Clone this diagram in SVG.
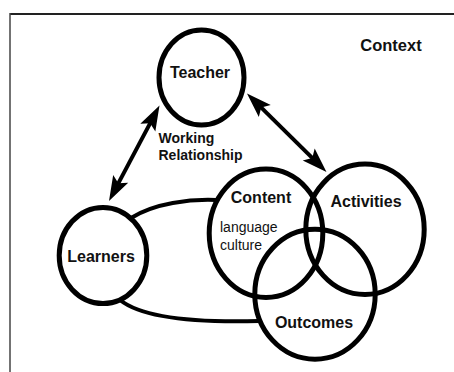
<svg xmlns="http://www.w3.org/2000/svg" width="454" height="372" viewBox="0 0 454 372">
  <style>
    .node { fill: none; stroke: #000; stroke-width: 5; }
    .label { font-family: "Liberation Sans", Arial, sans-serif; font-weight: bold; font-size: 16px; fill: #111; text-anchor: middle; }
    .small { font-family: "Liberation Sans", Arial, sans-serif; font-size: 14px; fill: #111; }
    .bold { font-weight: bold; }
    .link { fill: none; stroke: #000; stroke-width: 4; stroke-linecap: round; }
    .arrow { fill: none; stroke: #000; stroke-width: 4; marker-start: url(#head); marker-end: url(#head); }
  </style>
  <defs>
    <marker id="head" markerUnits="userSpaceOnUse" viewBox="-20 -10 30 20" markerWidth="30" markerHeight="20" refX="0" refY="0" orient="auto-start-reverse" overflow="visible">
      <path d="M8,0 L-17,-8.5 L-12,0 L-17,8.5 Z" fill="#000"/>
    </marker>
  </defs>

  <rect width="454" height="372" fill="#fff"/>

  <!-- frame: top rule and left rule -->
  <g id="frame">
    <line x1="10" y1="14" x2="454" y2="14" stroke="#222" stroke-width="2"/>
    <line x1="10" y1="13" x2="10" y2="372" stroke="#444" stroke-width="1.5"/>
    <text class="label" x="391" y="51" style="font-size:16.5px">Context</text>
  </g>

  <!-- connectors -->
  <g id="connectors">
    <path class="arrow" d="M155.76,112.57 L112.74,193.93"/>
    <path class="arrow" d="M252.69,99.12 L320.81,166.38"/>
    <path class="link" d="M131,218 C155,203 190,199 216,200"/>
    <path class="link" d="M120,300 C140,316 185,323 259,321"/>
  </g>

  <g id="teacher">
    <ellipse class="node" cx="201.5" cy="77.5" rx="42.5" ry="47.5"/>
    <text class="label" x="200" y="78">Teacher</text>
  </g>

  <g id="relationship-label">
    <text class="small bold" x="158.5" y="143.3">Working</text>
    <text class="small bold" x="158.5" y="160">Relationship</text>
  </g>

  <g id="learners">
    <ellipse class="node" cx="103" cy="255.5" rx="43.8" ry="48"/>
    <text class="label" x="101" y="261.5">Learners</text>
  </g>

  <g id="content">
    <ellipse class="node" cx="266" cy="233.3" rx="56.8" ry="64.2"/>
    <text class="label" x="261" y="203">Content</text>
    <text class="small" x="220" y="231.5">language</text>
    <text class="small" x="220" y="249.5">culture</text>
  </g>

  <g id="activities">
    <ellipse class="node" cx="365" cy="229.3" rx="59.2" ry="65.2"/>
    <text class="label" x="366" y="206.5">Activities</text>
  </g>

  <g id="outcomes">
    <ellipse class="node" cx="315" cy="294.2" rx="60.2" ry="65"/>
    <text class="label" x="314" y="328">Outcomes</text>
  </g>
</svg>
